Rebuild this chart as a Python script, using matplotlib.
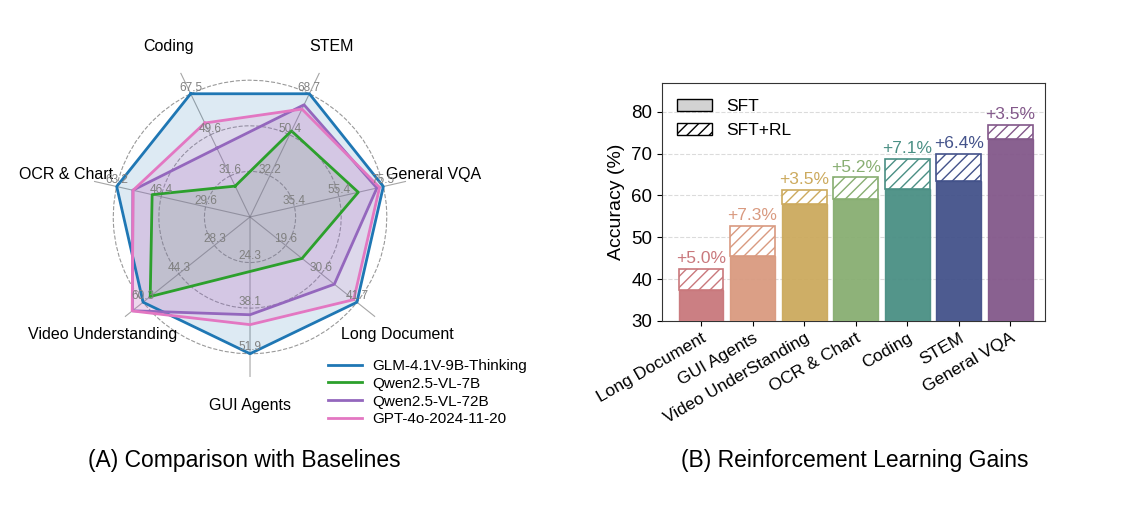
import matplotlib
matplotlib.use('Agg')
import matplotlib.pyplot as plt
import numpy as np
from matplotlib.patches import Patch

plt.rcParams['font.family'] = ['Liberation Sans', 'DejaVu Sans']

# ---- radar data (A) ----
radar_axes = ['Coding', 'STEM', 'General VQA', 'Long Document',
              'GUI Agents', 'Video Understanding', 'OCR & Chart']
# ring labels shown on each spoke (inner, middle, outer)
axis_ticks = [[31.6, 49.6, 67.5],
              [32.2, 50.4, 68.7],
              [35.4, 55.4, 75.5],
              [19.6, 30.6, 41.7],
              [24.3, 38.1, 51.9],
              [28.3, 44.3, 60.3],
              [29.6, 46.4, 63.2]]
glm = [67.5, 68.7, 75.5, 41.7, 51.9, 60.3, 63.2]
qwen7b = [27.1, 52.2, 64.2, 24.7, 27.0, 57.1, 49.8]
qwen72b = [43.7, 63.8, 72.6, 34.7, 40.1, 65.1, 57.1]
gpt4o = [54.7, 61.9, 73.8, 40.7, 43.1, 65.2, 57.0]
model_names = ['GLM-4.1V-9B-Thinking', 'Qwen2.5-VL-7B',
               'Qwen2.5-VL-72B', 'GPT-4o-2024-11-20']
model_colors = ['#1f77b4', '#2ca02c', '#9467bd', '#e377c2']

# ---- bar data (B) ----
bar_cats = ['Long Document', 'GUI Agents', 'Video UnderStanding',
            'OCR & Chart', 'Coding', 'STEM', 'General VQA']
sft = [37.4, 45.5, 57.9, 59.1, 61.6, 63.5, 73.4]
gain = [5.0, 7.3, 3.5, 5.2, 7.1, 6.4, 3.5]
bar_colors = ['#c9787c', '#d99a80', '#ccaa5e', '#88ae72',
              '#4a8f84', '#43528a', '#83588a']

fig = plt.figure(figsize=(11.38, 5.15), dpi=100)


def normalize(vals):
    out = []
    for v, t in zip(vals, axis_ticks):
        lo = 2 * t[0] - t[1]
        out.append((v - lo) / (t[2] - lo))
    return out


n = len(radar_axes)
angles = np.arange(n) * 2 * np.pi / n
closed = np.concatenate([angles, angles[:1]])

ax = fig.add_axes([0.0791, 0.268, 0.2812, 0.6214], polar=True)
ax.set_theta_offset(np.deg2rad(115.714))
ax.set_theta_direction(-1)

for vals, name, c in zip([glm, qwen7b, qwen72b, gpt4o], model_names, model_colors):
    r = normalize(vals)
    r = r + r[:1]
    ax.plot(closed, r, color=c, lw=2, label=name, zorder=3)
    ax.fill(closed, r, color=c, alpha=0.15, zorder=2)

ax.set_ylim(0, 1.17)
ax.set_yticks([1 / 3, 2 / 3, 1])
ax.set_yticklabels([])
ax.set_xticks(angles)
ax.set_xticklabels([])
ax.yaxis.grid(True, linestyle='--', color='gray', lw=0.8, alpha=0.8)
ax.xaxis.grid(True, linestyle='-', color='gray', lw=0.8, alpha=0.7)
ax.spines['polar'].set_visible(False)

for a, label, ticks in zip(angles, radar_axes, axis_ticks):
    ax.text(a, 1.38, label, ha='center', va='center', fontsize=11.5)
    for k, t in enumerate(ticks):
        ax.annotate('%.1f' % t, xy=(a, (k + 1) / 3), xytext=(0, 4.5),
                    textcoords='offset points', ha='center', va='center',
                    fontsize=8.5, color='gray', zorder=4)

fig.legend(loc='upper left', bbox_to_anchor=(0.2882, 0.303), frameon=False,
           fontsize=11, handlelength=2.2, handletextpad=0.7,
           labelspacing=0.25, borderpad=0, borderaxespad=0)

# ---- bars ----
ax2 = fig.add_axes([0.5815, 0.3767, 0.3368, 0.4616])
x = np.arange(len(bar_cats))
total = np.array(sft) + np.array(gain)
ax2.bar(x, sft, width=0.87, color=bar_colors, edgecolor=bar_colors,
        linewidth=1, alpha=0.95, zorder=3)
ax2.bar(x, gain, bottom=sft, width=0.87, facecolor='white',
        edgecolor=bar_colors, hatch='///', linewidth=1.2, zorder=3)
for xi, top, g, c in zip(x, total, gain, bar_colors):
    ax2.annotate('+%.1f%%' % g, xy=(xi, top), xytext=(0, 2),
                 textcoords='offset points', ha='center', va='bottom',
                 fontsize=12.5, color=c)

ax2.set_ylim(30, 86.8)
ax2.set_xlim(-0.76, 6.67)
ax2.set_yticks([30, 40, 50, 60, 70, 80])
ax2.set_xticks(x)
ax2.set_xticklabels(bar_cats, rotation=30, ha='right', rotation_mode='anchor',
                    fontsize=12.5)
ax2.tick_params(axis='y', labelsize=13.5)
ax2.set_ylabel('Accuracy (%)', fontsize=14)
ax2.yaxis.grid(True, linestyle='--', color='lightgray', lw=0.8, alpha=0.8)
ax2.set_axisbelow(True)
for s in ax2.spines.values():
    s.set_color('#333333')

handles = [Patch(facecolor='lightgray', edgecolor='black', label='SFT'),
           Patch(facecolor='white', edgecolor='black', hatch='///', label='SFT+RL')]
ax2.legend(handles=handles, loc='upper left', frameon=False, fontsize=12.5)

fig.text(244 / 1138, 1 - 460 / 515, '(A) Comparison with Baselines',
         ha='center', va='center', fontsize=16.5)
fig.text(855 / 1138, 1 - 460 / 515, '(B) Reinforcement Learning Gains',
         ha='center', va='center', fontsize=16.5)

fig.savefig('out.png', dpi=100)
